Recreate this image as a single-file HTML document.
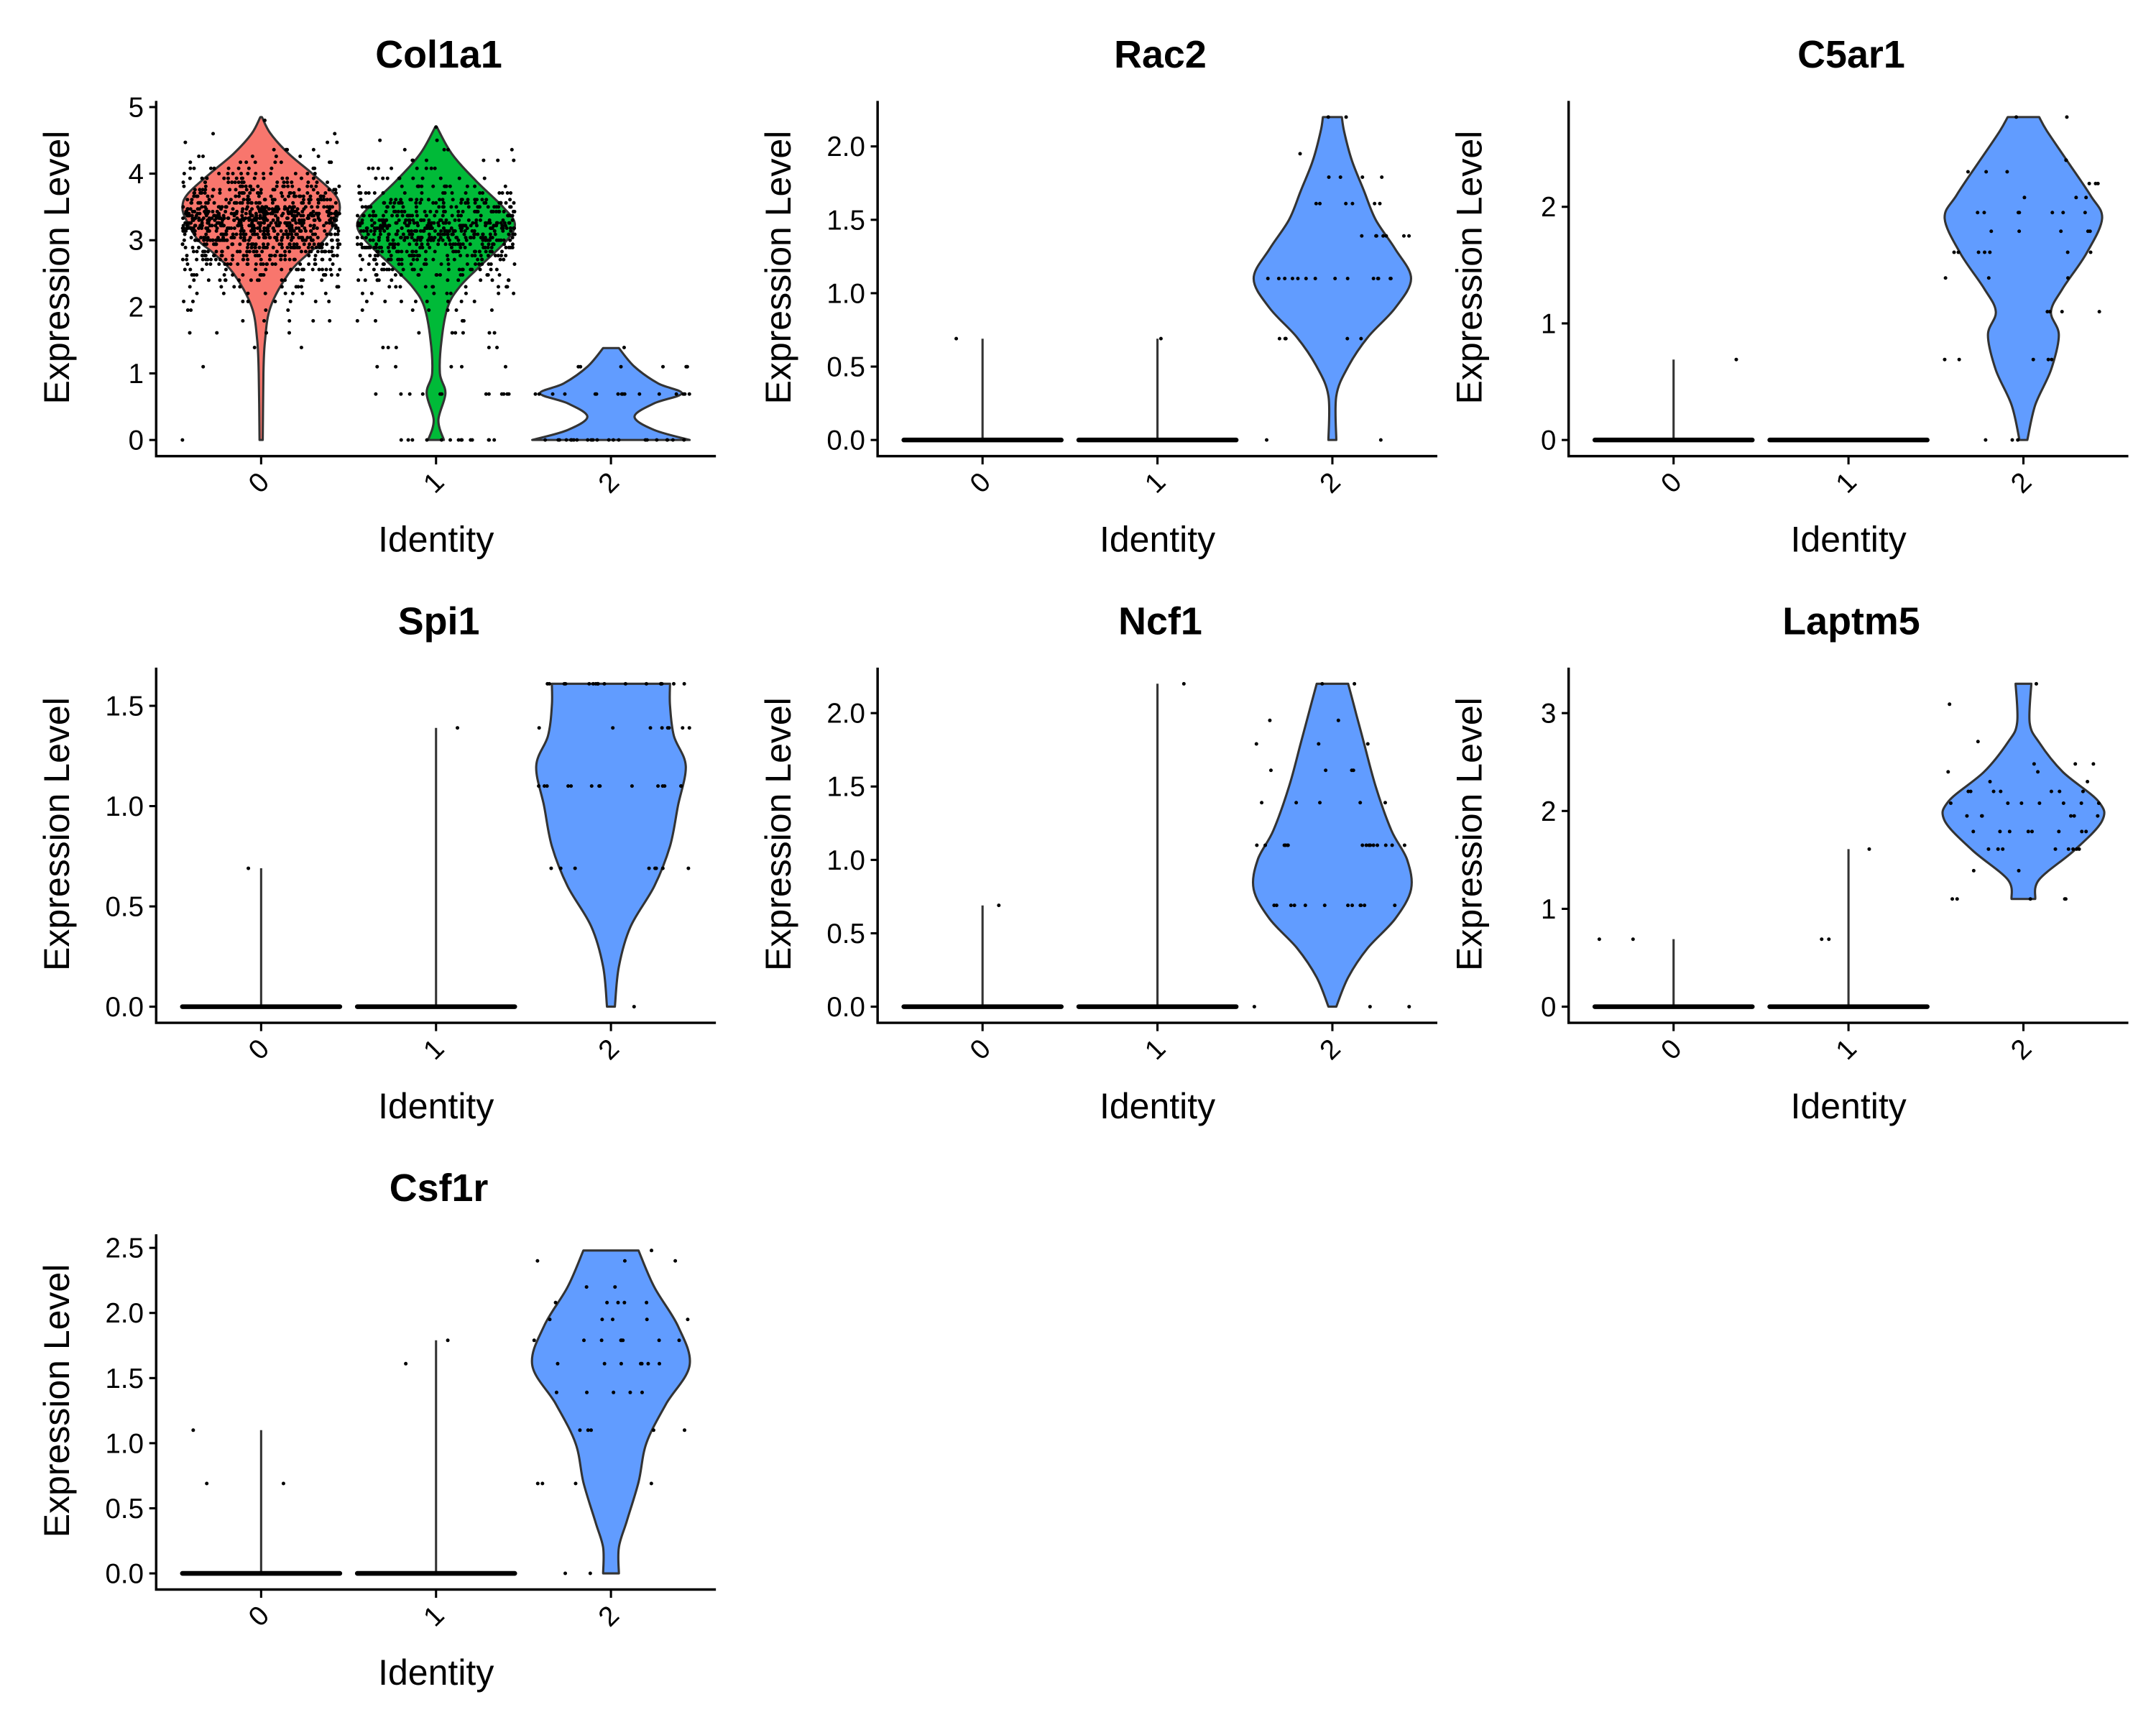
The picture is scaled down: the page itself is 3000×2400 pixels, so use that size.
<!DOCTYPE html>
<html><head><meta charset="utf-8"><style>
html,body{margin:0;padding:0;background:#fff;}
svg{display:block;font-family:"Liberation Sans",Arial,sans-serif;}
</style></head><body>
<svg id="chart" xmlns="http://www.w3.org/2000/svg" width="3000" height="2400" viewBox="0 0 1560 1248">
<rect width="1560" height="1248" fill="#fff"/>
</svg>
<script>
// ---------- data ----------
const genes = ["Col1a1","Rac2","C5ar1","Spi1","Ncf1","Laptm5","Csf1r"];
const categories = ["0","1","2"];
const yMaxes = [4.85,2.2,2.77,1.61,2.2,3.3,2.48];
const yTicks = [[0,1,2,3,4,5],[0,0.5,1,1.5,2],[0,1,2],[0,0.5,1,1.5],[0,0.5,1,1.5,2],[0,1,2,3],[0,0.5,1,1.5,2,2.5]];
const yTickLabels = [["0","1","2","3","4","5"],["0.0","0.5","1.0","1.5","2.0"],["0","1","2"],["0.0","0.5","1.0","1.5"],["0.0","0.5","1.0","1.5","2.0"],["0","1","2","3"],["0.0","0.5","1.0","1.5","2.0","2.5"]];
const groupColors = ["#F8766D","#00BA38","#619CFF"];
// violin profiles: [value, relative half width]
const violinCol1a1 = [
 [[0,0.02],[1,0.03],[1.5,0.05],[2,0.12],[2.5,0.35],[2.8,0.6],[3.0,0.8],[3.3,0.95],[3.5,1.0],[3.7,0.93],[4.0,0.65],[4.3,0.35],[4.6,0.12],[4.85,0.01]],
 [[0,0.1],[0.3,0.03],[0.7,0.12],[1.0,0.05],[1.5,0.07],[2.0,0.15],[2.3,0.3],[2.6,0.55],[3.0,0.9],[3.25,1.0],[3.5,0.85],[3.9,0.5],[4.3,0.2],[4.7,0.01]],
 [[0,1.0],[0.15,0.55],[0.35,0.3],[0.55,0.55],[0.7,0.9],[0.85,0.6],[1.1,0.3],[1.38,0.1]]
];
const violinRac2 = [[0,0.05],[0.3,0.05],[0.5,0.2],[0.7,0.45],[0.9,0.8],[1.1,1.0],[1.3,0.8],[1.5,0.55],[1.7,0.4],[1.9,0.25],[2.1,0.15],[2.2,0.12]];
const violinC5ar1 = [[0,0.05],[0.3,0.15],[0.6,0.35],[0.9,0.45],[1.1,0.35],[1.3,0.5],[1.6,0.8],[1.9,1.0],[2.1,0.85],[2.4,0.55],[2.65,0.3],[2.77,0.2]];
const violinSpi1 = [[0,0.05],[0.2,0.1],[0.4,0.25],[0.6,0.55],[0.8,0.75],[1.0,0.85],[1.2,0.95],[1.35,0.8],[1.5,0.75],[1.61,0.75]];
const violinNcf1 = [[0,0.05],[0.2,0.2],[0.4,0.45],[0.6,0.8],[0.8,1.0],[1.0,0.95],[1.2,0.75],[1.5,0.55],[1.8,0.4],[2.0,0.3],[2.2,0.2]];
const violinLaptm5 = [[1.1,0.15],[1.3,0.2],[1.6,0.65],[1.9,1.0],[2.1,0.95],[2.4,0.5],[2.7,0.2],[2.9,0.08],[3.3,0.1]];
const violinCsf1r = [[0,0.1],[0.2,0.1],[0.4,0.2],[0.7,0.35],[1.0,0.45],[1.3,0.7],[1.6,1.0],[1.9,0.85],[2.2,0.55],[2.48,0.35]];
const degenerateMax = [null,[0.69,0.69],[0.69,0],[0.69,1.39],[0.69,2.2],[0.69,1.61],[1.1,1.79]];
// point histograms: [value, count]
const ptsCol1a1 = [
 [[0,1],[1.1,1],[1.39,2],[1.61,4],[1.79,5],[1.95,4],[2.08,8],[2.2,8],[2.3,10],[2.4,14],[2.48,15],[2.56,18],[2.64,22],[2.71,25],[2.77,28],[2.83,30],[2.89,32],[2.94,34],[3.0,36],[3.04,36],[3.09,38],[3.14,38],[3.18,38],[3.22,38],[3.26,37],[3.3,36],[3.33,36],[3.37,35],[3.4,34],[3.43,33],[3.47,32],[3.5,30],[3.56,28],[3.61,26],[3.66,24],[3.71,22],[3.76,20],[3.81,18],[3.87,16],[3.93,14],[4.0,12],[4.08,10],[4.17,8],[4.26,6],[4.36,4],[4.47,3],[4.6,2],[4.8,1]],
 [[0,14],[0.69,12],[1.1,5],[1.39,5],[1.61,6],[1.79,4],[1.95,6],[2.08,8],[2.2,8],[2.3,10],[2.4,12],[2.48,14],[2.56,20],[2.64,18],[2.71,22],[2.77,24],[2.83,26],[2.89,28],[2.94,30],[3.0,30],[3.04,32],[3.09,32],[3.14,34],[3.18,34],[3.22,34],[3.26,33],[3.3,32],[3.37,30],[3.43,28],[3.5,26],[3.56,24],[3.61,22],[3.71,18],[3.81,14],[3.93,10],[4.08,8],[4.2,6],[4.36,4],[4.5,2],[4.7,1]],
 [[0,22],[0.69,16],[1.1,6],[1.39,1]]
];
const ptsRac2 = [[0,2],[0.69,5],[1.1,14],[1.39,7],[1.61,6],[1.79,4],[1.95,1],[2.2,2]];
const ptsC5ar1 = [[0,3],[0.69,5],[1.1,4],[1.39,3],[1.61,7],[1.79,5],[1.95,7],[2.08,3],[2.2,3],[2.3,3],[2.4,2],[2.77,2]];
const ptsSpi1 = [[0,1],[0.69,8],[1.1,14],[1.39,8],[1.61,18]];
const ptsNcf1 = [[0,3],[0.69,12],[1.1,16],[1.39,5],[1.61,4],[1.79,3],[1.95,2],[2.2,2]];
const ptsLaptm5 = [[1.1,5],[1.39,2],[1.61,8],[1.79,8],[1.95,6],[2.08,7],[2.2,7],[2.3,2],[2.4,2],[2.48,3],[2.71,1],[3.09,1],[3.3,1]];
const ptsCsf1r = [[0,2],[0.69,4],[1.1,5],[1.39,5],[1.61,7],[1.79,8],[1.95,5],[2.08,5],[2.2,2],[2.4,3],[2.48,1]];
const outliers = [null,[[0.69],[0.69]],[[0.69],[]],[[0.69],[1.39]],[[0.69],[2.2]],[[0.69,0.69],[0.69,1.61,0.69]],[[0.69,0.69,1.1],[1.61,1.79]]];

// ---------- layout ----------
const violins2 = [null,violinRac2,violinC5ar1,violinSpi1,violinNcf1,violinLaptm5,violinCsf1r];
const pts2 = [null,ptsRac2,ptsC5ar1,ptsSpi1,ptsNcf1,ptsLaptm5,ptsCsf1r];
const colX = [113,635,1135], rowTop=[73,483,893], PW=405, PH=257;
const NS="http://www.w3.org/2000/svg";
const svg=document.getElementById('chart');
function mk(tag,attrs,parent){const e=document.createElementNS(NS,tag);for(const k in attrs)e.setAttribute(k,attrs[k]);(parent||svg).appendChild(e);return e;}
let seed=1;
function rnd(){seed=(seed*16807)%2147483647;return (seed-1)/2147483646;}
// Catmull-Rom smooth path through points (continuing from current point)
function smooth(p){
  let d='';
  for(let i=0;i<p.length-1;i++){
    const p0=p[Math.max(i-1,0)],p1=p[i],p2=p[i+1],p3=p[Math.min(i+2,p.length-1)];
    const c1=[p1[0]+(p2[0]-p0[0])/6,p1[1]+(p2[1]-p0[1])/6];
    const c2=[p2[0]-(p3[0]-p1[0])/6,p2[1]-(p3[1]-p1[1])/6];
    d+=`C${c1[0].toFixed(1)},${c1[1].toFixed(1)} ${c2[0].toFixed(1)},${c2[1].toFixed(1)} ${p2[0].toFixed(1)},${p2[1].toFixed(1)}`;
  }
  return d;
}

genes.forEach((gene,gi)=>{
  const col=gi%3,row=Math.floor(gi/3);
  const x0=colX[col],y0=rowTop[row],yB=y0+PH;
  const ymax=yMaxes[gi],pad=ymax*0.05;
  const ys=v=>yB-(v+pad)/(ymax+2*pad)*PH;
  const step=PW/3.2;
  const xs=i=>x0+(i+0.6)*step;
  const half=step*0.45;
  const g=mk('g',{});
  
  
  const t=mk('text',{x:x0+PW/2+2,y:y0-24,'text-anchor':'middle','font-size':28,'font-weight':'bold',fill:'#000'},g);
  t.textContent=gene;
  
  
  const drawViolin=(prof,i)=>{
    const R=prof.map(([v,w])=>[xs(i)+w*half,ys(v)]);
    const L=prof.slice().reverse().map(([v,w])=>[xs(i)-w*half,ys(v)]);
    const d='M'+R[0][0].toFixed(1)+','+R[0][1].toFixed(1)+smooth(R)+'L'+L[0][0].toFixed(1)+','+L[0][1].toFixed(1)+smooth(L)+'Z';
    const p=mk('path',{d:d,fill:groupColors[i],stroke:'#333','stroke-width':1.6,'stroke-linejoin':'round'},g);
    
    
  };
  const drawPts=(hist,i)=>{
    hist.forEach(([v,c])=>{for(let n=0;n<c;n++){
      const d=mk('circle',{cx:(xs(i)+(rnd()-0.5)*2*half).toFixed(1),cy:ys(v).toFixed(1),r:1.3,fill:'#000'},g);
      
      
    }});
  };
  if(gi===0){
    for(let i=0;i<3;i++){drawViolin(violinCol1a1[i],i);drawPts(ptsCol1a1[i],i);}
  } else {
    for(let i=0;i<2;i++){
      const mx=degenerateMax[gi][i];
      if(mx>0){const ln=mk('line',{x1:xs(i),x2:xs(i),y1:ys(0),y2:ys(mx),stroke:'#333','stroke-width':1.6},g);
        
        }
      const z=mk('line',{x1:xs(i)-half,x2:xs(i)+half,y1:ys(0),y2:ys(0),stroke:'#000','stroke-width':3.4,'stroke-linecap':'round'},g);
      
      
      outliers[gi][i].forEach(v=>{
        const d=mk('circle',{cx:(xs(i)+(rnd()-0.5)*2*half).toFixed(1),cy:ys(v).toFixed(1),r:1.3,fill:'#000'},g);
        
        
      });
    }
    drawViolin(violins2[gi],2);drawPts(pts2[gi],2);
  }
  // axes
  const ax=mk('path',{d:`M${x0},${y0}V${yB}H${x0+PW}`,fill:'none',stroke:'#000','stroke-width':1.8},g);
  
  
  yTicks[gi].forEach((v,k)=>{
    mk('line',{x1:x0-5,x2:x0,y1:ys(v),y2:ys(v),stroke:'#000','stroke-width':1.6},g);
    const tl=mk('text',{x:x0-9,y:ys(v)+7,'text-anchor':'end','font-size':20,fill:'#000'},g);
    tl.textContent=yTickLabels[gi][k];
    
    
  });
  categories.forEach((c,i)=>{
    mk('line',{x1:xs(i),x2:xs(i),y1:yB,y2:yB+6,stroke:'#000','stroke-width':1.6},g);
    const tl=mk('text',{x:xs(i)+7,y:yB+20,'text-anchor':'end','font-size':20,fill:'#000',transform:`rotate(-45 ${xs(i)+7} ${yB+20})`},g);
    tl.textContent=c;
    
    
  });
  const xt=mk('text',{x:x0+PW/2,y:yB+69,'text-anchor':'middle','font-size':26,fill:'#000'},g);
  xt.textContent='Identity';
  
  
  const cy=y0+PH/2-8, cx=x0-63;
  const yt=mk('text',{x:cx,y:cy,'text-anchor':'middle','font-size':26,fill:'#000',transform:`rotate(-90 ${cx} ${cy})`},g);
  yt.textContent='Expression Level';
  
  
});
</script>
</body></html>
